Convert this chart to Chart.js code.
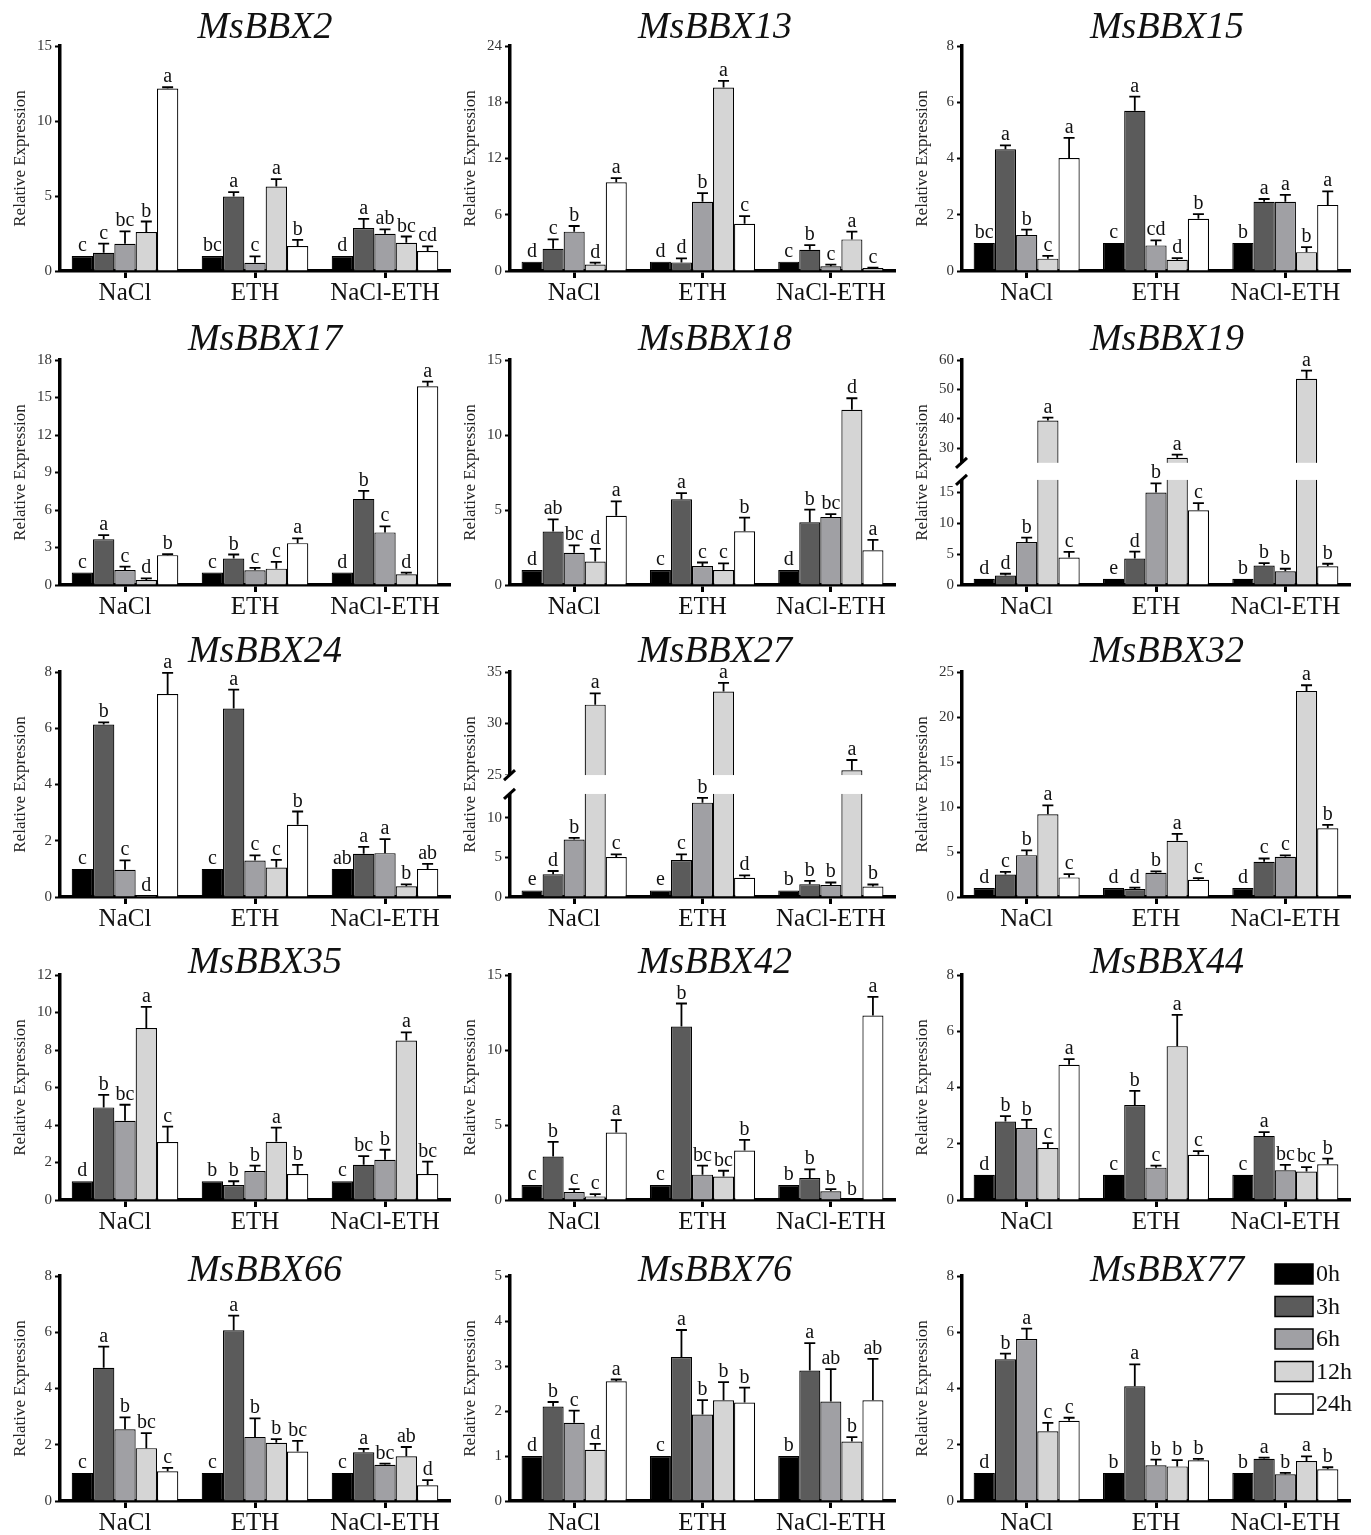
<!DOCTYPE html>
<html>
<head>
<meta charset="utf-8">
<title>MsBBX relative expression</title>
<script src="https://cdn.jsdelivr.net/npm/chart.js@4.4.1/dist/chart.umd.min.js"></script>
<style>
  html, body { margin: 0; padding: 0; background: #fff; }
  #page { position: relative; width: 1371px; height: 1535px; overflow: hidden; }
  #page canvas { position: absolute; }
</style>
</head>
<body>
<div id="page"></div>
<script>
// groups on the x axis and the time points (one bar colour each)
const categories = ["NaCl", "ETH", "NaCl-ETH"];
const timePoints = ["0h", "3h", "6h", "12h", "24h"];
const barColors = ["#000000", "#5b5b5b", "#a0a0a4", "#d5d5d5", "#ffffff"];

// every gene: mean, error (upper SD) and letters, one row per group, one column per time point
const mean2 = [[1, 1.22, 1.82, 2.6, 12.17], [1, 4.96, 0.55, 5.63, 1.66], [1, 2.86, 2.48, 1.88, 1.33]];
const err2 = [[0, 0.6, 0.82, 0.7, 0.08], [0, 0.3, 0.42, 0.5, 0.42], [0, 0.62, 0.29, 0.42, 0.31]];
const sig2 = [["c", "c", "bc", "b", "a"], ["bc", "a", "c", "a", "b"], ["d", "a", "ab", "bc", "cd"]];
const ticks2 = [0, 5, 10, 15];

const mean13 = [[1, 2.38, 4.2, 0.7, 9.47], [1, 0.92, 7.38, 19.57, 5.03], [1, 2.27, 0.5, 3.37, 0.32]];
const err13 = [[0, 1.0, 0.6, 0.2, 0.43], [0, 0.43, 0.92, 0.7, 0.82], [0, 0.5, 0.18, 0.82, 0.05]];
const sig13 = [["d", "c", "b", "d", "a"], ["d", "d", "b", "a", "c"], ["c", "b", "c", "a", "c"]];
const ticks13 = [0, 6, 12, 18, 24];

const mean15 = [[1, 4.33, 1.28, 0.44, 4.02], [1, 5.7, 0.91, 0.4, 1.86], [1, 2.46, 2.46, 0.67, 2.35]];
const err15 = [[0, 0.14, 0.19, 0.1, 0.71], [0, 0.5, 0.18, 0.06, 0.16], [0, 0.1, 0.25, 0.18, 0.48]];
const sig15 = [["bc", "a", "b", "c", "a"], ["c", "a", "cd", "d", "b"], ["b", "a", "a", "b", "a"]];
const ticks15 = [0, 2, 4, 6, 8];

const mean17 = [[1, 3.67, 1.2, 0.4, 2.39], [1, 2.12, 1.18, 1.31, 3.35], [1, 6.89, 4.21, 0.86, 15.9]];
const err17 = [[0, 0.32, 0.27, 0.13, 0.08], [0, 0.32, 0.19, 0.54, 0.38], [0, 0.64, 0.48, 0.13, 0.37]];
const sig17 = [["c", "a", "c", "d", "b"], ["c", "b", "c", "c", "a"], ["d", "b", "c", "d", "a"]];
const ticks17 = [0, 3, 6, 9, 12, 15, 18];

const mean18 = [[1, 3.56, 2.15, 1.57, 4.62], [1, 5.71, 1.26, 1.0, 3.58], [1, 4.18, 4.54, 11.68, 2.32]];
const err18 = [[0, 0.82, 0.49, 0.84, 0.95], [0, 0.42, 0.24, 0.44, 0.91], [0, 0.84, 0.18, 0.77, 0.69]];
const sig18 = [["d", "ab", "bc", "d", "a"], ["c", "a", "c", "c", "b"], ["d", "b", "bc", "d", "a"]];
const ticks18 = [0, 5, 10, 15];

const mean19 = [[1, 1.52, 6.96, 39.4, 4.46], [1, 4.29, 14.95, 26.7, 12.1], [1, 3.15, 2.23, 53.6, 3.04]];
const err19 = [[0, 0.3, 0.7, 1.0, 0.9], [0, 1.1, 1.5, 1.1, 1.15], [0, 0.4, 0.4, 2.8, 0.4]];
const sig19 = [["d", "d", "b", "a", "c"], ["e", "d", "b", "a", "c"], ["b", "b", "b", "a", "b"]];
const ticks19 = [0, 5, 10, 15, 30, 40, 50, 60];

const mean24 = [[1, 6.13, 0.97, 0.05, 7.22], [1, 6.7, 1.3, 1.05, 2.57], [1, 1.54, 1.56, 0.38, 1.0]];
const err24 = [[0, 0.08, 0.33, 0, 0.75], [0, 0.67, 0.18, 0.27, 0.47], [0, 0.24, 0.5, 0.07, 0.18]];
const sig24 = [["c", "b", "c", "d", "a"], ["c", "a", "c", "c", "b"], ["ab", "a", "a", "b", "ab"]];
const ticks24 = [0, 2, 4, 6, 8];

const mean27 = [[0.83, 2.88, 7.25, 31.83, 5.04], [0.83, 4.67, 11.9, 33.1, 2.42], [0.83, 1.62, 1.5, 25.46, 1.33]];
const err27 = [[0, 0.4, 0.2, 1.1, 0.33], [0, 0.7, 0.6, 0.85, 0.3], [0, 0.42, 0.33, 1.0, 0.25]];
const sig27 = [["e", "d", "b", "a", "c"], ["e", "c", "b", "a", "d"], ["b", "b", "b", "a", "b"]];
const ticks27 = [0, 5, 10, 25, 30, 35];

const mean32 = [[1, 2.5, 4.65, 9.19, 2.18], [1, 0.89, 2.7, 6.24, 1.92], [1, 3.91, 4.47, 22.9, 7.64]];
const err32 = [[0, 0.3, 0.52, 1.0, 0.37], [0, 0.15, 0.15, 0.78, 0.18], [0, 0.37, 0.15, 0.63, 0.37]];
const sig32 = [["d", "c", "b", "a", "c"], ["d", "d", "b", "a", "c"], ["d", "c", "c", "a", "b"]];
const ticks32 = [0, 5, 10, 15, 20, 25];

const mean35 = [[1, 4.94, 4.23, 9.17, 3.09], [1, 0.8, 1.55, 3.11, 1.39], [1, 1.88, 2.15, 8.51, 1.39]];
const err35 = [[0, 0.67, 0.85, 1.13, 0.82], [0, 0.2, 0.28, 0.75, 0.48], [0, 0.46, 0.53, 0.43, 0.66]];
const sig35 = [["d", "b", "bc", "a", "c"], ["b", "b", "b", "a", "b"], ["c", "bc", "b", "a", "bc"]];
const ticks35 = [0, 2, 4, 6, 8, 10, 12];

const mean42 = [[1, 2.9, 0.53, 0.24, 4.5], [1, 11.57, 1.69, 1.57, 3.3], [1, 1.46, 0.58, 0.02, 12.3]];
const err42 = [[0, 0.98, 0.2, 0.15, 0.82], [0, 1.53, 0.6, 0.38, 0.71], [0, 0.58, 0.15, 0, 1.24]];
const sig42 = [["c", "b", "c", "c", "a"], ["c", "b", "bc", "bc", "b"], ["b", "b", "b", "b", "a"]];
const ticks42 = [0, 5, 10, 15];

const mean44 = [[0.9, 2.79, 2.56, 1.85, 4.81], [0.9, 3.38, 1.15, 5.47, 1.61], [0.9, 2.28, 1.06, 1.01, 1.27]];
const err44 = [[0, 0.19, 0.29, 0.17, 0.2], [0, 0.5, 0.07, 1.11, 0.13], [0, 0.13, 0.19, 0.16, 0.2]];
const sig44 = [["d", "b", "b", "c", "a"], ["c", "b", "c", "a", "c"], ["c", "a", "bc", "bc", "b"]];
const ticks44 = [0, 2, 4, 6, 8];

const mean66 = [[1, 4.74, 2.55, 1.88, 1.06], [1, 6.07, 2.28, 2.07, 1.76], [1, 1.73, 1.29, 1.59, 0.56]];
const err66 = [[0, 0.75, 0.42, 0.53, 0.12], [0, 0.52, 0.66, 0.13, 0.38], [0, 0.12, 0.04, 0.33, 0.18]];
const sig66 = [["c", "a", "b", "bc", "c"], ["c", "a", "b", "b", "bc"], ["c", "a", "bc", "ab", "d"]];
const ticks66 = [0, 2, 4, 6, 8];

const mean76 = [[1, 2.1, 1.74, 1.14, 2.66], [1, 3.2, 1.92, 2.24, 2.19], [1, 2.9, 2.21, 1.32, 2.24]];
const err76 = [[0, 0.1, 0.27, 0.13, 0.04], [0, 0.6, 0.32, 0.4, 0.33], [0, 0.61, 0.72, 0.1, 0.92]];
const sig76 = [["d", "b", "c", "d", "a"], ["c", "a", "b", "b", "b"], ["b", "a", "ab", "b", "ab"]];
const ticks76 = [0, 1, 2, 3, 4, 5];

const mean77 = [[1, 5.04, 5.76, 2.48, 2.85], [1, 4.08, 1.27, 1.23, 1.45], [1, 1.5, 0.95, 1.42, 1.13]];
const err77 = [[0, 0.2, 0.37, 0.3, 0.11], [0, 0.78, 0.2, 0.22, 0.05], [0, 0.04, 0.05, 0.17, 0.07]];
const sig77 = [["d", "b", "a", "c", "c"], ["b", "a", "b", "b", "b"], ["b", "a", "b", "a", "b"]];
const ticks77 = [0, 2, 4, 6, 8];

// broken y axes: lower part ends at lo, upper part starts at hi
const break19 = { lo: 17, hi: 25, loFrac: 0.467, gapFrac: 0.076 };
const break27 = { lo: 13, hi: 25, loFrac: 0.458, gapFrac: 0.084 };

const panels = [
    { name: "MsBBX2", mean: mean2, err: err2, sig: sig2, ticks: ticks2 },
    { name: "MsBBX13", mean: mean13, err: err13, sig: sig13, ticks: ticks13 },
    { name: "MsBBX15", mean: mean15, err: err15, sig: sig15, ticks: ticks15 },
    { name: "MsBBX17", mean: mean17, err: err17, sig: sig17, ticks: ticks17 },
    { name: "MsBBX18", mean: mean18, err: err18, sig: sig18, ticks: ticks18 },
    { name: "MsBBX19", mean: mean19, err: err19, sig: sig19, ticks: ticks19, brk: break19 },
    { name: "MsBBX24", mean: mean24, err: err24, sig: sig24, ticks: ticks24 },
    { name: "MsBBX27", mean: mean27, err: err27, sig: sig27, ticks: ticks27, brk: break27 },
    { name: "MsBBX32", mean: mean32, err: err32, sig: sig32, ticks: ticks32 },
    { name: "MsBBX35", mean: mean35, err: err35, sig: sig35, ticks: ticks35 },
    { name: "MsBBX42", mean: mean42, err: err42, sig: sig42, ticks: ticks42 },
    { name: "MsBBX44", mean: mean44, err: err44, sig: sig44, ticks: ticks44 },
    { name: "MsBBX66", mean: mean66, err: err66, sig: sig66, ticks: ticks66 },
    { name: "MsBBX76", mean: mean76, err: err76, sig: sig76, ticks: ticks76 },
    { name: "MsBBX77", mean: mean77, err: err77, sig: sig77, ticks: ticks77, legend: true }
];

// page layout (pixels) of the plot areas
const colAxis = [60, 510, 962];
const colRight = [450, 895, 1350];
const rowTop = [46, 360, 672, 975, 1276];
const rowBottom = [271, 585, 897, 1200, 1501];
const titleLift = [18, 20, 20, 12, 5];
const yAxisWidth = 62;
const padTop = 50;
const padRight = 12;
const xAxisHeight = 45;

const serif = "'Liberation Serif', 'Times New Roman', serif";
Chart.defaults.font.family = serif;

// value -> position on the y scale (identity unless the axis is broken)
function makeMapper(ticks, brk) {
    const max = ticks[ticks.length - 1];
    if (!brk) return v => v;
    const upFrac = 1 - brk.loFrac - brk.gapFrac;
    return v => {
        if (v <= brk.lo) return v / brk.lo * brk.loFrac;
        if (v >= brk.hi) return brk.loFrac + brk.gapFrac + (v - brk.hi) / (max - brk.hi) * upFrac;
        return brk.loFrac + (v - brk.lo) / (brk.hi - brk.lo) * brk.gapFrac;
    };
}

function drawLegend(ctx, left, top) {
    ctx.save();
    ctx.font = "24px " + serif;
    ctx.textAlign = "left";
    ctx.textBaseline = "middle";
    timePoints.forEach((label, i) => {
        const y = top + i * 32.5;
        ctx.fillStyle = barColors[i];
        ctx.fillRect(375 - left, y - 10, 38, 20);
        ctx.strokeStyle = "#000";
        ctx.lineWidth = 1.5;
        ctx.strokeRect(375 - left, y - 10, 38, 20);
        ctx.fillStyle = "#111";
        ctx.fillText(label, 375 - left + 41, y + 1);
    });
    ctx.restore();
}

function makeDecor(panel, map, lift) {
    return {
        id: "decor",
        afterDatasetsDraw(chart) {
            const { ctx, chartArea, scales } = chart;
            const y = scales.y;
            ctx.save();

            // broken axis: white band and slashes
            if (panel.brk) {
                const yHi = y.getPixelForValue(map(panel.brk.hi));
                const yLo = y.getPixelForValue(map(panel.brk.lo));
                ctx.fillStyle = "#fff";
                ctx.fillRect(chartArea.left - 7, yHi, chartArea.right - chartArea.left + 9, yLo - yHi);
                ctx.strokeStyle = "#000";
                ctx.lineWidth = 3;
                [yHi, yLo].forEach(py => {
                    ctx.beginPath();
                    ctx.moveTo(chartArea.left - 6, py + 5);
                    ctx.lineTo(chartArea.left + 5, py - 5);
                    ctx.stroke();
                });
            }

            // error bars and letters
            ctx.strokeStyle = "#000";
            ctx.lineWidth = 1.8;
            ctx.fillStyle = "#111";
            ctx.font = "20px " + serif;
            ctx.textAlign = "center";
            ctx.textBaseline = "alphabetic";
            chart.data.datasets.forEach((ds, i) => {
                chart.getDatasetMeta(i).data.forEach((bar, j) => {
                    const m = panel.mean[j][i];
                    const e = panel.err[j][i];
                    const top = y.getPixelForValue(map(m + e));
                    if (e > 0) {
                        ctx.beginPath();
                        ctx.moveTo(bar.x, bar.y);
                        ctx.lineTo(bar.x, top);
                        ctx.moveTo(bar.x - 5.5, top);
                        ctx.lineTo(bar.x + 5.5, top);
                        ctx.stroke();
                    }
                    ctx.fillText(panel.sig[j][i], bar.x, top - 5);
                });
            });

            // gene name
            ctx.font = "italic 38px " + serif;
            ctx.textBaseline = "middle";
            ctx.fillStyle = "#111";
            ctx.fillText(panel.name, chartArea.left + 205, chartArea.top - lift);

            if (panel.legend) drawLegend(ctx, chart.canvas.offsetLeft - 900, 48);
            ctx.restore();
        }
    };
}

const page = document.getElementById("page");

panels.forEach((panel, k) => {
    const row = Math.floor(k / 3);
    const col = k % 3;
    const plotW = colRight[col] - colAxis[col];
    const plotH = rowBottom[row] - rowTop[row];
    const canvas = document.createElement("canvas");
    canvas.width = yAxisWidth + plotW + padRight;
    canvas.height = padTop + plotH + xAxisHeight + 3;
    canvas.style.left = (colAxis[col] - yAxisWidth) + "px";
    canvas.style.top = (rowTop[row] - padTop) + "px";
    page.appendChild(canvas);

    const map = makeMapper(panel.ticks, panel.brk);
    const yMax = panel.brk ? 1 : panel.ticks[panel.ticks.length - 1];

    const datasets = timePoints.map((tp, i) => ({
        label: tp,
        data: categories.map((c, j) => map(panel.mean[j][i])),
        backgroundColor: barColors[i],
        borderColor: "#000",
        borderWidth: 1.2,
        borderSkipped: "start",
        categoryPercentage: 0.82,
        barPercentage: 1.0
    }));

    new Chart(canvas.getContext("2d"), {
        type: "bar",
        data: { labels: categories, datasets: datasets },
        options: {
            responsive: false,
            animation: false,
            layout: { padding: { top: padTop, left: 0, right: padRight, bottom: 3 } },
            plugins: {
                legend: { display: false },
                tooltip: { enabled: false }
            },
            scales: {
                x: {
                    afterFit: s => { s.height = xAxisHeight; },
                    grid: { offset: false, drawOnChartArea: false, tickLength: 7, tickWidth: 3, tickColor: "#000" },
                    border: { display: true, width: 3.5, color: "#000" },
                    ticks: { font: { size: 25 }, color: "#111", padding: 0, maxRotation: 0 }
                },
                y: {
                    min: 0,
                    max: yMax,
                    afterFit: s => { s.width = yAxisWidth; },
                    afterBuildTicks: s => { s.ticks = panel.ticks.map(v => ({ value: map(v) })); },
                    grid: { drawOnChartArea: false, tickLength: 5, tickWidth: 2, tickColor: "#000" },
                    border: { display: true, width: 3.5, color: "#000" },
                    ticks: {
                        font: { size: 15 },
                        color: "#333",
                        padding: 3,
                        callback: (val, i) => panel.ticks[i]
                    },
                    title: {
                        display: true,
                        text: "Relative Expression",
                        font: { size: 17 },
                        color: "#222",
                        padding: { top: 12, bottom: 0 }
                    }
                }
            }
        },
        plugins: [makeDecor(panel, map, titleLift[row])]
    });
});
</script>
</body>
</html>
